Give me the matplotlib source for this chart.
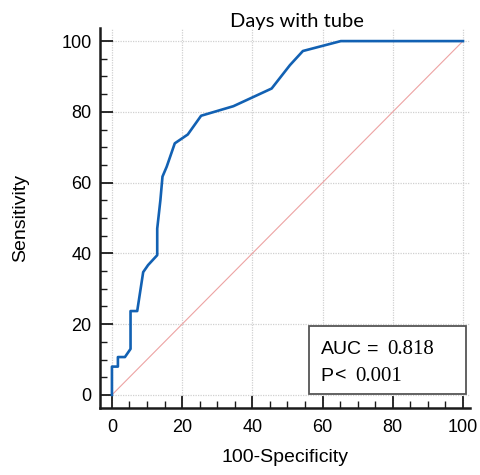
import matplotlib
matplotlib.use("Agg")

import matplotlib.pyplot as plt
from matplotlib.ticker import MultipleLocator

# ROC curve points (100-Specificity, Sensitivity)
fpr = [0, 0, 1.7, 1.7, 3.7, 5.3, 5.3, 7.2, 8.9, 10.3, 12.9, 12.9, 13.8,
       14.4, 15.6, 17.9, 21.6, 25.4, 34.6, 45.5, 50.7, 54.4, 65.2, 100]
tpr = [0, 8.0, 8.0, 10.7, 10.7, 13.0, 23.7, 23.7, 34.7, 36.7, 39.5, 47.0, 55.0,
       61.7, 64.5, 71.1, 73.6, 78.9, 81.6, 86.6, 93.2, 97.2, 100, 100]
ticks = [0, 20, 40, 60, 80, 100]
auc_text = "0.818"
p_text = "0.001"

plt.rcParams["font.family"] = ["Liberation Sans", "DejaVu Sans"]

fig = plt.figure(figsize=(4.81, 4.75), dpi=100)
ax = fig.add_axes([100 / 481, 67 / 475, 370 / 481, 380 / 475])

# reference line and ROC curve
ax.plot([0, 100], [0, 100], color="#eda3a3", linewidth=0.8, zorder=2)
ax.plot(fpr, tpr, color="#1261b3", linewidth=1.9, zorder=3)

ax.set_xlim(-3.4, 102)
ax.set_ylim(-3.7, 103.7)

ax.set_xticks(ticks)
ax.set_yticks(ticks)
ax.xaxis.set_minor_locator(MultipleLocator(5))
ax.yaxis.set_minor_locator(MultipleLocator(5))
ax.grid(True, which="major", color="#d0d0d0", linestyle=(0, (1, 1)), linewidth=0.9)

for side in ["top", "right"]:
    ax.spines[side].set_visible(False)
for side in ["left", "bottom"]:
    ax.spines[side].set_linewidth(1.8)
    ax.spines[side].set_color("#1a1a1a")

ax.tick_params(which="major", direction="in", length=9, width=1.3,
               labelsize=13, color="#1a1a1a")
ax.tick_params(which="minor", direction="in", length=5, width=1.0, color="#1a1a1a")
ax.tick_params(axis="x", which="major", pad=8)
ax.tick_params(axis="y", which="major", pad=6)

ax.set_xlabel("100-Specificity", fontsize=14, labelpad=9)
ax.set_ylabel("Sensitivity", fontsize=14, labelpad=23)

fig.text(297 / 481, 1 - 27 / 475, "Days with tube", family="Lato",
         fontsize=14.5, ha="center", va="baseline")

# AUC box
box = plt.Rectangle((56.2, 0.2), 44.6, 19.3, facecolor="white",
                    edgecolor="#555555", linewidth=1.3, zorder=4)
ax.add_patch(box)
ax.text(59.5, 11.5, "AUC", fontsize=14, zorder=5, va="baseline")
ax.text(72.6, 11.5, "=", fontsize=14, zorder=5, va="baseline")
ax.text(78.3, 11.5, auc_text, fontsize=15, family="Liberation Serif",
        zorder=5, va="baseline")
ax.text(59.5, 4.0, "P", fontsize=14, zorder=5, va="baseline")
ax.text(63.5, 4.0, "<", fontsize=14, zorder=5, va="baseline")
ax.text(69.2, 4.0, p_text, fontsize=15, family="Liberation Serif",
        zorder=5, va="baseline")

fig.savefig("out.png", dpi=100)
